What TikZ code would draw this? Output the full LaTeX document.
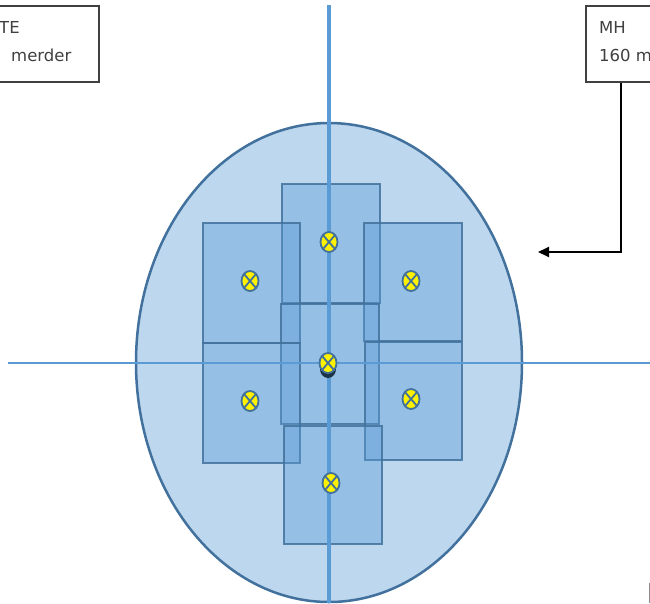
\documentclass[tikz,border=0pt]{standalone}
\usepackage{fontspec}
\setmainfont{DejaVu Sans}
\usetikzlibrary{arrows.meta}
\definecolor{zonefill}{HTML}{BDD7EE}
\definecolor{zoneline}{HTML}{41719C}
\definecolor{axisblue}{HTML}{5B9BD5}
\definecolor{boxline}{HTML}{404040}
\begin{document}
\begin{tikzpicture}[x=1pt, y=-1pt,
    cell/.style={fill=axisblue, fill opacity=0.4, draw=zoneline, draw opacity=0.85, line width=2.8pt},
    lamp/.style={fill=yellow, draw=zoneline, line width=1.8pt},
    infobox/.style={draw=boxline, fill=white, line width=1.2pt, minimum height=76pt, inner sep=0pt},
    infotext/.style={text=boxline, font=\fontsize{16.5}{27}\selectfont, anchor=base west, inner sep=0pt}]
    \useasboundingbox (0,0) rectangle (650,603);
    \draw[fill=zonefill, draw=zoneline, line width=2.5pt] (329,362.5) ellipse [x radius=193, y radius=239.5];
    \foreach \xa/\ya/\xb/\yb in {282/184/380/303, 203/223/300/343, 364/223/462/341, 281/304/379/424,
        203/343/300/463, 365/342/462/460, 284/426/382/544}
        \draw[cell] (\xa,\ya) rectangle (\xb,\yb);
    \draw[axisblue, line width=3.5pt] (329,5) -- (329,603);
    \draw[axisblue, line width=2pt] (8,363) -- (650,363);
    \fill[zoneline!45!black] (328,369) ellipse [x radius=8, y radius=9];
    \foreach \px/\py in {329/242, 250/281, 411/281, 328/363, 250/401, 411/399, 331/483} {
        \draw[lamp] (\px,\py) ellipse [x radius=8.5, y radius=10];
        \draw[zoneline, line width=1.8pt] (\px-6,\py-7) -- (\px+6,\py+7) (\px-6,\py+7) -- (\px+6,\py-7);
    }
    \node[infobox, minimum width=160pt] (tebox) at (19,44) {};
    \node[infotext] (teline1) at (-1,33) {TE};
    \node[infotext] (teline2) at (11,61) {merder};
    \node[infobox, minimum width=70pt] (mhbox) at (621,44) {};
    \node[infotext] (mhline1) at (599,33) {MH};
    \node[infotext] (mhline2) at (599,61) {160 m};
    \coordinate (zoneend) at (538,252);
    \draw[-{Triangle[length=11pt,width=10pt]}, line width=2pt] (mhbox.south) |- (zoneend);
    \draw[boxline!60, line width=1.2pt] (649.5,583) -- (649.5,603);
\end{tikzpicture}
\end{document}
